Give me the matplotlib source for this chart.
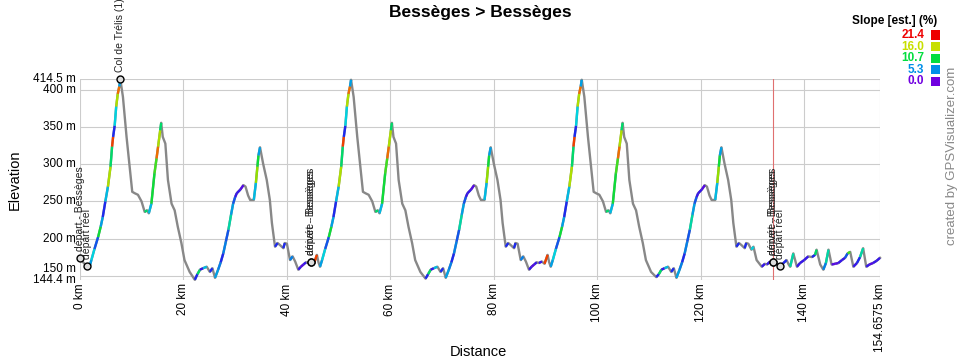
import numpy as np
import matplotlib.pyplot as plt
from matplotlib.collections import LineCollection
from matplotlib.colors import LinearSegmentedColormap, Normalize
from matplotlib.patches import Rectangle

plt.rcParams['font.family'] = ['Liberation Sans', 'DejaVu Sans']

# Profil : distance (km), altitude (m), pente estimée (%)
boucle1_km = [0.0, 0.6, 1.3, 1.8, 2.2, 2.8, 3.5, 4.0, 4.4, 4.9, 5.4, 5.9, 6.2, 6.4,
              6.7, 7.0, 7.3, 7.6, 7.8, 8.3, 9.0, 9.6, 10.1, 10.6, 11.2, 11.9, 12.5,
              13.0, 13.3, 13.8, 14.4, 14.8, 15.1, 15.5, 15.7, 16.0, 16.5, 17.0, 17.7,
              18.3, 18.9, 19.6, 20.2, 21.2, 22.2, 22.7, 23.2, 23.8, 24.5, 25.1, 25.6,
              26.1, 26.7, 27.2, 27.7, 28.2, 28.7, 29.2, 29.6, 30.0, 30.3, 31.0, 31.6,
              32.0, 32.5, 32.9, 33.6, 34.0, 34.3, 34.5, 34.8, 35.4, 36.1, 36.7, 37.1,
              37.7, 38.2, 38.7, 39.3, 39.6, 40.0, 40.6, 41.1, 41.6, 42.2, 42.7, 43.2,
              43.7, 44.1, 44.7, 45.2]
boucle1_alt = [174, 168, 163, 161, 171, 186, 202, 216, 229, 250, 270, 297, 324, 337,
               352, 378, 395, 405, 414.5, 391, 337, 297, 263, 261, 259, 250, 236,
               238, 234, 247, 288, 308, 324, 346, 356, 337, 328, 279, 247,
               238, 216, 194, 171, 155, 144.4, 152, 158, 160, 162, 155, 160,
               147, 158, 168, 180, 196, 212, 232, 247, 256, 261, 266, 272,
               270, 258, 252, 252, 275, 297, 312, 323, 301, 279, 252, 221,
               189, 194, 191, 187, 194, 193, 171, 176, 169, 158, 162, 165,
               168, 167, 169, 166]
boucle1_pente = [0, 0, 0, 0, 6, 8, 4, 11, 6, 3, 7, 15, 10, 20,
                 3, 8, 15, 19, 6, 0, 0, 0, 0, 0, 0, 0, 0,
                 10, 0, 7, 11, 12, 19, 15, 10, 0, 0, 0, 0,
                 0, 0, 0, 0, 0, 0, 3, 10, 2, 7, 0, 3,
                 0, 6, 5, 3, 5, 4, 9, 6, 4, 2, 2, 1,
                 0, 0, 0, 0, 7, 14, 11, 6, 0, 0, 0, 0,
                 0, 3, 0, 0, 3, 0, 0, 5, 0, 0, 2, 1,
                 2, 0, 2, 0]

boucle2_km = [45.8, 46.1, 46.4, 46.8, 47.4, 48.1, 48.6, 49.0, 49.5, 50.0, 50.5, 50.8,
              51.0, 51.3, 51.6, 51.9, 52.2, 52.4, 52.9, 53.6, 54.2, 54.7, 55.2, 55.8,
              56.5, 57.1, 57.6, 57.9, 58.4, 59.0, 59.4, 59.7, 60.1, 60.3, 60.6, 61.1,
              61.6, 62.3, 62.9, 63.5, 64.2, 64.8, 65.8, 66.8, 67.3, 67.8, 68.4, 69.1,
              69.7, 70.2, 70.7, 71.3, 71.8, 72.3, 72.8, 73.3, 73.8, 74.2, 74.6, 74.9,
              75.6, 76.2, 76.6, 77.1, 77.5, 78.2, 78.6, 78.9, 79.1, 79.4, 80.0, 80.7,
              81.3, 81.7, 82.3, 82.8, 83.3, 83.9, 84.2, 84.6, 85.2, 85.7, 86.2, 86.8,
              87.3, 87.8, 88.3, 88.7, 89.3, 89.8]
boucle2_alt = [178, 168, 162, 171, 186, 202, 216, 229, 250, 270, 297, 324,
               337, 352, 378, 395, 405, 414, 391, 337, 297, 263, 261, 259,
               250, 236, 238, 234, 247, 288, 308, 324, 346, 356, 337, 328,
               279, 247, 238, 216, 194, 171, 155, 146, 152, 158, 160, 162,
               155, 160, 147, 158, 168, 180, 196, 212, 232, 247, 256, 261,
               266, 272, 270, 258, 252, 252, 275, 297, 312, 323, 301, 279,
               252, 221, 189, 194, 191, 187, 194, 193, 171, 176, 169, 158,
               162, 165, 168, 167, 169, 166]
boucle2_pente = [20, 0, 0, 6, 8, 4, 11, 6, 3, 7, 15, 10,
                 20, 3, 8, 15, 19, 6, 0, 0, 0, 0, 0, 0,
                 0, 0, 10, 0, 7, 11, 12, 19, 15, 10, 0, 0,
                 0, 0, 0, 0, 0, 0, 0, 0, 3, 10, 2, 7,
                 0, 3, 0, 6, 5, 3, 5, 4, 9, 6, 4, 2,
                 2, 1, 0, 0, 0, 0, 7, 14, 11, 6, 0, 0,
                 0, 0, 0, 3, 0, 0, 3, 0, 0, 5, 0, 0,
                 2, 1, 2, 0, 2, 0]

boucle3_km = [90.4, 90.7, 91.0, 91.4, 92.0, 92.7, 93.2, 93.6, 94.1, 94.6, 95.1, 95.4,
              95.6, 95.9, 96.2, 96.5, 96.8, 97.0, 97.5, 98.2, 98.8, 99.3, 99.8, 100.4,
              101.1, 101.7, 102.2, 102.5, 103.0, 103.6, 104.0, 104.3, 104.7, 104.9,
              105.2, 105.7, 106.2, 106.9, 107.5, 108.1, 108.8, 109.4, 110.4, 111.4,
              111.9, 112.4, 113.0, 113.7, 114.3, 114.8, 115.3, 115.9, 116.4, 116.9,
              117.4, 117.9, 118.4, 118.8, 119.2, 119.5, 120.2, 120.8, 121.2, 121.7,
              122.1, 122.8, 123.2, 123.5, 123.7, 124.0, 124.6, 125.3, 125.9, 126.3,
              126.9, 127.4, 127.9, 128.5, 128.8, 129.2]
boucle3_alt = [178, 168, 162, 171, 186, 202, 216, 229, 250, 270, 297, 324,
               337, 352, 378, 395, 405, 414, 391, 337, 297, 263, 261, 259,
               250, 236, 238, 234, 247, 288, 308, 324, 346, 356,
               337, 328, 279, 247, 238, 216, 194, 171, 155, 148,
               152, 158, 160, 162, 155, 160, 147, 158, 168, 180,
               196, 212, 232, 247, 256, 261, 266, 272, 270, 258,
               252, 252, 275, 297, 312, 323, 301, 279, 252, 221,
               189, 194, 191, 187, 194, 193]
boucle3_pente = [20, 0, 0, 6, 8, 4, 11, 6, 3, 7, 15, 10,
                 20, 3, 8, 15, 19, 6, 0, 0, 0, 0, 0, 0,
                 0, 0, 10, 0, 7, 11, 12, 19, 15, 10,
                 0, 0, 0, 0, 0, 0, 0, 0, 0, 0,
                 3, 10, 2, 7, 0, 3, 0, 6, 5, 3,
                 5, 4, 9, 6, 4, 2, 2, 1, 0, 0,
                 0, 0, 7, 14, 11, 6, 0, 0, 0, 0,
                 0, 3, 0, 0, 3, 0]

fin_km = [129.8, 130.2, 130.8, 131.8, 132.4, 132.8, 133.4, 134.0, 134.6, 135.3,
          136.0, 136.6, 137.0, 137.3, 137.9, 138.6, 139.2, 140.0, 140.8, 141.5,
          142.1, 142.4, 143.1, 143.7, 144.2, 144.7, 145.3, 146.0, 146.6, 147.3,
          147.9, 148.4, 148.9, 149.5, 150.2, 150.8, 151.4, 152.0, 152.6, 153.3,
          154.0, 154.6575]
fin_alt = [185, 189, 171, 162, 166, 165, 169, 169, 166, 163,
           167, 171, 165, 162, 180, 162, 167, 171, 176, 175,
           178, 185, 165, 158, 167, 185, 165, 166, 167, 171,
           174, 180, 182, 162, 167, 175, 187, 162, 165, 167,
           170, 174]
fin_pente = [0, 8, 0, 0, 2, 0, 2, 0, 0, 0,
             2, 3, 0, 0, 9, 0, 2, 2, 2, 0,
             3, 10, 0, 0, 5, 9, 0, 1, 1, 2,
             2, 4, 12, 0, 2, 3, 9, 0, 2, 1,
             2, 2]

# Points de passage
wpt_km = [0.0, 1.3, 7.8, 44.7, 44.7, 134.0, 134.0, 135.3]
wpt_alt = [174, 163, 414.5, 169, 169, 169, 169, 163]
wpt_nom = ["départ - Bessèges", "départ réel", "Col de Trélis (1)",
           "arrivée - Bessèges", "départ - Bessèges",
           "arrivée - Bessèges", "départ - Bessèges", "départ réel"]
repere_km = 134.0

alt_min, alt_max = 144.4, 414.5
dist_max = 154.6575
yticks = [144.4, 150, 200, 250, 300, 350, 400, 414.5]
xticks = [0, 20, 40, 60, 80, 100, 120, 140, 154.6575]
xlabels = ["0 km", "20 km", "40 km", "60 km", "80 km", "100 km", "120 km",
           "140 km", "154.6575 km"]
legende_val = [21.4, 16.0, 10.7, 5.3, 0.0]

dist = np.array(boucle1_km + boucle2_km + boucle3_km + fin_km)
alt = np.array(boucle1_alt + boucle2_alt + boucle3_alt + fin_alt, dtype=float)
pente = np.array(boucle1_pente + boucle2_pente + boucle3_pente + fin_pente, dtype=float)

# Couleurs de pente façon GPS Visualizer
cmap = LinearSegmentedColormap.from_list('pente', [
    (0.0, '#7000e0'), (2.7 / 21.4, '#2020f0'), (5.3 / 21.4, '#0090e8'),
    (8.0 / 21.4, '#00d4e0'), (10.7 / 21.4, '#00dd40'), (13.3 / 21.4, '#80e000'),
    (16.0 / 21.4, '#c8e000'), (18.7 / 21.4, '#f08000'), (1.0, '#ee0000')])
norm = Normalize(0, 21.4)

fig = plt.figure(figsize=(9.6, 3.6), dpi=100)
ax = fig.add_axes([80 / 960, 1 - 279.8 / 360, 800 / 960, 200.4 / 360])

ax.plot(dist, alt, color='#888888', lw=1.7, clip_on=False, zorder=3)
pts = np.column_stack([dist, alt])
segs = np.stack([pts[:-1], pts[1:]], axis=1)
montee = np.diff(alt) > 0
lc = LineCollection(segs[montee], colors=cmap(norm(pente[1:][montee])), lw=1.7,
                    zorder=4, clip_on=False)
ax.add_collection(lc)

ax.axvline(repere_km, color='#e07070', lw=0.8, zorder=2)

# Points de passage et étiquettes
ax.plot(wpt_km, wpt_alt, 'o', ms=5, mfc='#dddddd', mec='black', mew=1,
        zorder=6, clip_on=False)
for x, y, nom in zip(wpt_km, wpt_alt, wpt_nom):
    ax.annotate(nom, xy=(x, y), xytext=(0, 5), textcoords='offset points',
                rotation=90, ha='center', va='bottom', fontsize=7.5,
                color='#222222', zorder=7, annotation_clip=False)

ax.set_xlim(0, dist_max)
ax.set_ylim(alt_min, alt_max)
for s in ax.spines.values():
    s.set_visible(False)
ax.set_xticks(xticks)
ax.set_xticklabels(xlabels, rotation=90, fontsize=8.5, va='top', ha='center')
ax.set_yticks(yticks)
ax.set_yticklabels([])
ax.tick_params(length=0, pad=2.5)
ax.grid(True, color='#cccccc', lw=0.8, zorder=0)
ax.set_axisbelow(True)

# Étiquettes d'altitude (150 m remonté pour ne pas chevaucher 144.4 m)
for v in yticks:
    dy = 5 if v == 150 else 0
    ax.annotate(f"{v:g} m", xy=(0, v), xycoords=('axes fraction', 'data'),
                xytext=(-3, dy), textcoords='offset points', ha='right',
                va='center', fontsize=8.5)

fig.text(480 / 960, 1 - 12 / 360, "Bessèges > Bessèges", ha='center',
         va='center', fontsize=12.5, fontweight='bold')
fig.text(478 / 960, 1 - 352 / 360, "Distance", ha='center', va='center',
         fontsize=10.5)
fig.text(15 / 960, 1 - 180 / 360, "Elevation", ha='center', va='center',
         rotation=90, fontsize=10.5)
fig.text(952 / 960, 1 - 156 / 360, "created by GPSVisualizer.com", ha='center',
         va='center', rotation=90, fontsize=9.5, color='#888888')

# Légende des pentes
fig.text(937 / 960, 1 - 21 / 360, "Slope [est.] (%)", ha='right', va='center',
         fontsize=8.5, fontweight='bold')
for i, v in enumerate(legende_val):
    yc = 35 + i * 11.6
    c = cmap(norm(v))
    fig.text(924 / 960, 1 - yc / 360, f"{v:.1f}", ha='right', va='center',
             fontsize=8.5, fontweight='bold', color=c)
    fig.patches.append(Rectangle((931 / 960, 1 - (yc + 4.5) / 360), 9 / 960,
                                 9 / 360, transform=fig.transFigure,
                                 facecolor=c, edgecolor='none'))

fig.savefig('out.png', dpi=100)
